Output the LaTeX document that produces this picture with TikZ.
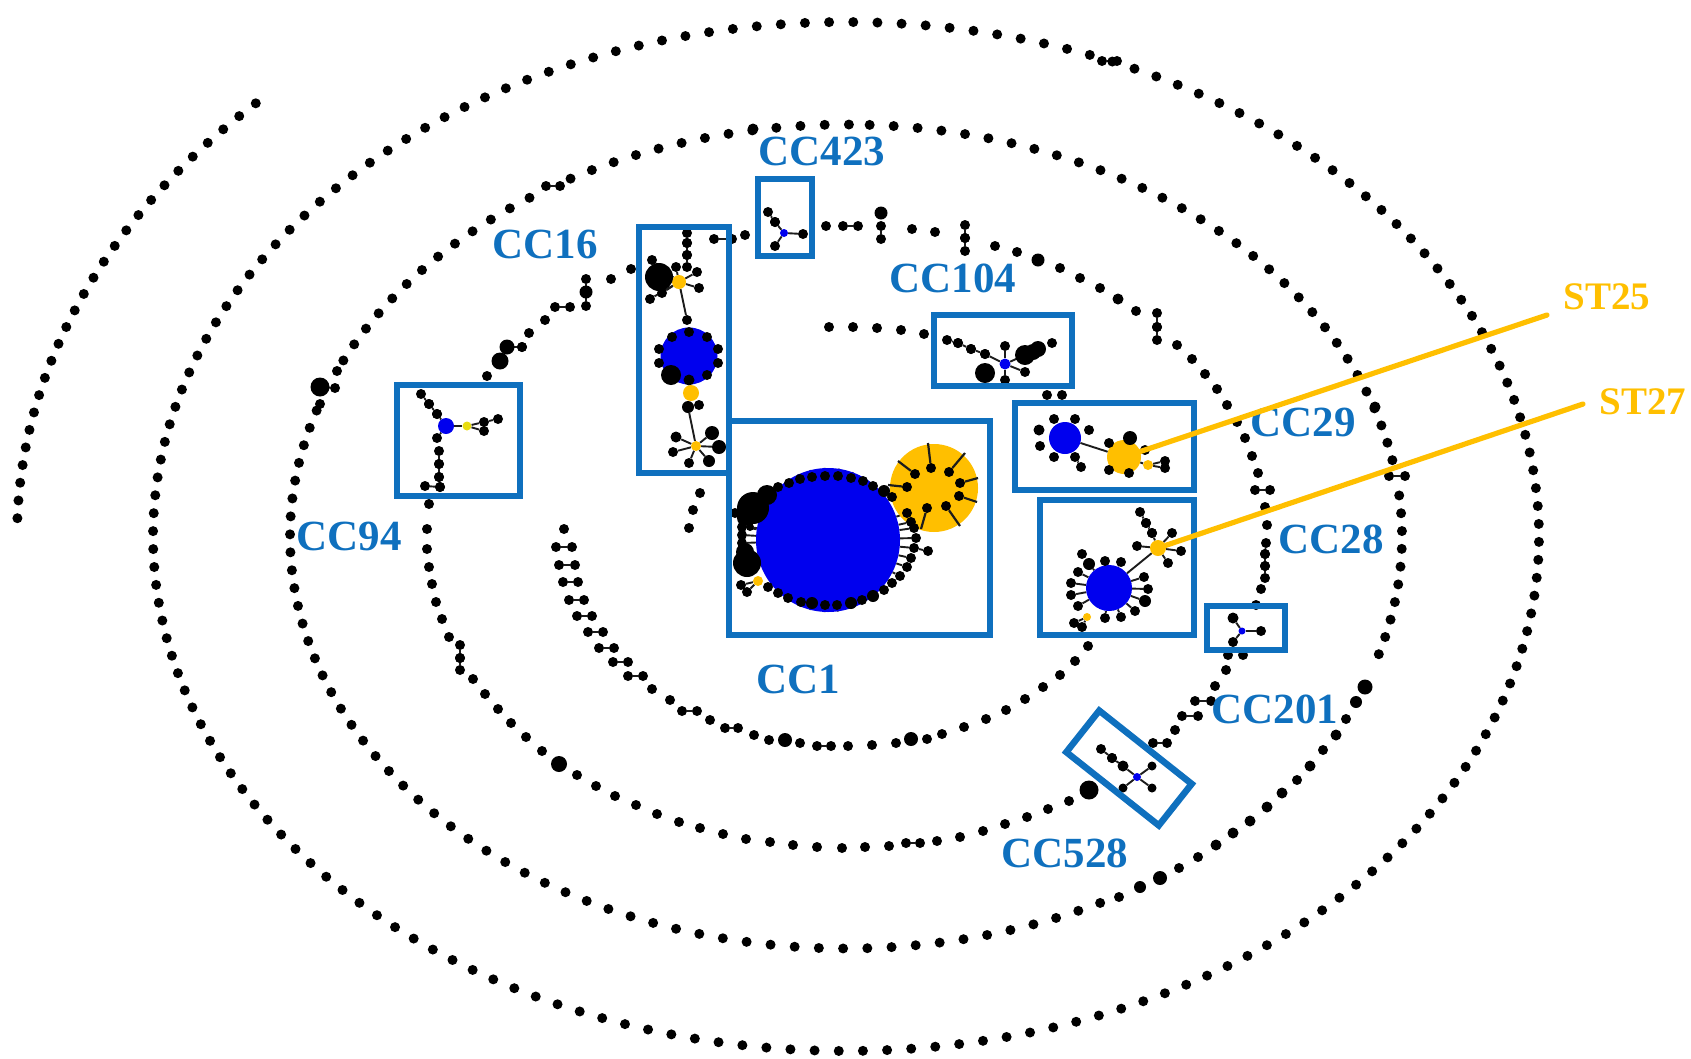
\documentclass[tikz,border=0pt]{standalone}
\usepackage{fontspec}
\setmainfont{Liberation Serif}
\usetikzlibrary{backgrounds}
\definecolor{ccblue}{HTML}{0F70BE}
\definecolor{hubblue}{HTML}{0000EE}
\definecolor{stgold}{HTML}{FFBF00}
\definecolor{stpale}{HTML}{E8DC10}
\definecolor{ink}{HTML}{1C1C1C}
\tikzset{
  dot/.style={circle,fill=black,inner sep=0pt,minimum size=10pt},
  blob/.style={dot,minimum size=#1},
  bluehub/.style={circle,fill=hubblue,inner sep=0pt,minimum size=#1},
  sthub/.style={circle,fill=stgold,inner sep=0pt,minimum size=#1},
  link/.style={draw=ink,line width=1.9pt},
  tail/.style={draw=ink,line width=2.2pt},
  ccbox/.style={draw=ccblue,line width=6.5pt,inner sep=0pt,fill=none},
  cclabel/.style={text=ccblue,font=\fontsize{43}{43}\selectfont\bfseries,inner sep=0pt},
  stlabel/.style={text=stgold,font=\fontsize{39}{39}\selectfont\bfseries,inner sep=0pt},
  stline/.style={draw=stgold,line width=5.2pt,line cap=round},
}
% leaves hung on a hub: x/y/size
\newcommand{\leaves}[2]{\foreach \x/\y/\s [count=\n] in {#2} {
  \node[blob=\s pt] (#1l\n) at (\x,\y) {};
  \scoped[on background layer] \draw[link] (#1) -- (#1l\n);
}}
% linked pairs of dots: x/y/x/y
\newcommand{\pairs}[2]{\foreach \ax/\ay/\bx/\by [count=\n] in {#2} {
  \node[dot] (#1a\n) at (\ax,\ay) {};
  \node[dot] (#1b\n) at (\bx,\by) {};
  \scoped[on background layer] \draw[link] (#1a\n) -- (#1b\n);
}}
% dots on a concentric ellipse: name, x radius, y radius, angle
\newcommand{\ringdot}[4]{\node[dot] (#1) at ({846+#2*cos(#4)},{536.5-#3*sin(#4)}) {};}
\begin{document}
\begin{tikzpicture}[x=1pt,y=-1pt]
\useasboundingbox (0,0) rectangle (1691,1058);

% outer rings
\foreach \k in {0,...,26} {\ringdot{ra\k}{829}{617}{135.4+1.65*\k}}
\foreach \k in {0,...,179} {\ringdot{rb\k}{693}{514.5}{89.4+2*\k}}
\foreach \k in {0,...,12} {\ringdot{rc\k}{556}{412}{89.7+2.5*\k}}
\foreach \k in {14,15,...,26} {\ringdot{rc\k}{556}{412}{89.7+2.5*\k}}
\foreach \k in {29,30,...,83} {\ringdot{rc\k}{556}{412}{89.7+2.5*\k}}
\foreach \k in {0,...,9} {\ringdot{rd\k}{556}{412}{343.4+2.48*\k}}
\foreach \k in {11,12,...,42} {\ringdot{rd\k}{556}{412}{343.4+2.48*\k}}
\foreach \x/\y/\s [count=\n] in {1365/687/15,1356/702/12,1346/719/10,1336/735/11,1323/750/10,1310/766/11,1297/780/10,1282/793/11,1267/807/11,1250/821/11,1233/833/11,1216/845/11,1198/857/10,1179/868/10,1160/878/14,1140/887/12,1119/897/10,753/129/11,320/387/19,1375/407/11,337/371/10,320/404/10}
  \node[blob=\s pt] (rbig\n) at (\x,\y) {};
\pairs{rp}{546/186/560/186,1389/476/1405/476,320/387/335/388,1102/61/1117/61}

% third ring
\foreach \x/\y [count=\n] in {429/504,427/529,427/549,429/567,432/584,436/602,442/619,449/637,473/679,485/694,498/709,511/723,526/737,542/751,577/775,596/786,615/796,636/805,657/814,679/822,700/828,723/834,746/839,770/842,793/845,817/847,842/848,865/847,889/846,937/841,960/837,983/831,1005/824,1027/817,1048/809,1069/801,1175/730,1215/686,1226/670,1228/655,1243/655,1256/605,1261/589,1267/525,1265/507,1258/473,1252/456,1245/438,1237/422,1227/405,1217/389,1205/374,1192/359,1177/345,1136/311,1100/288,1080/278,1060/268,1017/252,995/246,935/232,912/229,826/226,745/235,631/269,611/279,545/320,529/333,522/347,487/376}
  \node[dot] (rt\n) at (\x,\y) {};
\foreach \x/\y/\s [count=\n] in {559/764/16,1089/790/19,1118/299/11,1038/260/13,881/213/13,586/292/13,507/347/15,500/361/17}
  \node[blob=\s pt] (rtbig\n) at (\x,\y) {};
\pairs{rtp}{460/645/460/658,460/658/460/670,906/843/920/843,1153/743/1167/743,1182/716/1198/716,1195/701/1211/701,1255/490/1270/490,1266/543/1265/554,1265/554/1265/566,1265/566/1265/578,1157/313/1157/327,1157/327/1157/340,965/225/965/238,965/238/965/251,881/226/881/239,843/226/858/226,714/239/732/239,586/279/586/292,586/292/586/306,555/307/570/307,507/347/522/347}

% fourth ring
\foreach \x/\y [count=\n] in {564/529,652/689,670/700,710/720,754/735,769/740,800/743,848/746,872/745,896/743,927/739,942/734,964/727,986/719,1006/710,1025/699,1043/687,1060/675,1075/661,1088/646,829/327,853/327,877/328,901/330,924/334,1047/395,1062/395,689/528,693/510,700/493}
  \node[dot] (rf\n) at (\x,\y) {};
\node[blob=14pt] (rfbig1) at (785,740) {};
\node[blob=14pt] (rfbig2) at (911,739) {};
\pairs{rfp}{556/547/572/547,559/565/575/565,563/582/578/582,569/600/584/600,577/616/592/616,588/632/603/632,599/648/614/648,613/662/628/662,628/676/643/676,682/711/697/711,725/728/738/728,817/746/831/746}

% CC1
\node[bluehub=144pt] (cc1hub) at (828,540) {};
\leaves{cc1hub}{778/487/10,789/483/10,800/479/10,812/477/10,825/476/10,838/476/10,851/478/10,863/481/10,873/486/10,884/491/12,892/497/10,768/587/10,778/593/10,788/598/10,801/602/10,812/603/12,825/605/10,837/605/10,851/603/12,862/600/10,873/596/12,884/590/10,892/583/10,900/576/10,907/567/10,911/558/10,914/548/10,916/538/10,914/528/10,911/522/10,907/513/10,742/527/10,742/535/10,742/543/10,750/527/8}
\node[dot] (cc1far) at (928,551) {};
\draw[link] (cc1hubl27) -- (cc1far);
\foreach \x/\y/\s [count=\n] in {753/508/32,767/495/20,745/518/16,735/513/10,747/563/28,745/552/18}
  \node[blob=\s pt] (cc1blob\n) at (\x,\y) {};
\node[sthub=10pt] (cc1st) at (758,581) {};
\leaves{cc1st}{741/585/10,747/592/10}
\begin{scope}[on background layer]
\node[sthub=88pt] (cc1gold) at (934,488) {};
\end{scope}
\foreach \x/\y/\tx/\ty [count=\n] in {915/474/898/461,931/468/928/443,949/472/965/453,960/483/978/478,959/496/977/502,946/506/960/526,927/508/921/529,907/487/888/485} {
  \node[dot] (cc1g\n) at (\x,\y) {};
  \coordinate (cc1t\n) at (\tx,\ty);
  \draw[tail] (cc1g\n) -- (cc1t\n);
}

% CC16
\node[sthub=14pt] (cc16top) at (679,282) {};
\node[blob=28pt] (cc16big) at (659,277) {};
\leaves{cc16top}{676/267/10,697/272/10,699/288/10,662/293/10,650/299/10,652/260/10,687/320/10}
\pairs{cc16p}{687/233/687/243,687/243/687/255,687/255/687/267}
\node[bluehub=57pt] (cc16hub) at (689,356) {};
\foreach \x/\y/\s [count=\n] in {689/332/10,672/337/10,707/337/10,659/349/10,718/349/10,659/363/10,718/363/10,671/375/20,689/380/11,707/375/10}
  \node[blob=\s pt] (cc16r\n) at (\x,\y) {};
\node[sthub=16pt] (cc16mid) at (691,393) {};
\node[sthub=10pt] (cc16low) at (696,446) {};
\node[blob=12pt] (cc16n) at (688,407) {};
\node[dot] (cc16m) at (699,405) {};
\draw[link] (cc16n) -- (cc16low);
\leaves{cc16low}{676/437/11,673/452/10,689/463/10,709/461/12,719/447/14,712/433/14}

% CC423
\node[bluehub=8pt] (cc423hub) at (784,233) {};
\leaves{cc423hub}{803/234/10,775/246/10,775/222/10}
\pairs{cc423p}{768/212/775/222}

% CC104
\node[bluehub=11pt] (cc104hub) at (1005,364) {};
\leaves{cc104hub}{985/354/10,1005/346/10,1005/380/10,1025/372/10,1025/355/10}
\pairs{cc104p}{947/340/958/343,958/343/971/349,971/349/985/354}
\foreach \x/\y/\s [count=\n] in {985/373/20,1025/355/20,1038/349/16,1033/352/16,1052/343/10}
  \node[blob=\s pt] (cc104b\n) at (\x,\y) {};

% CC29
\node[bluehub=32pt] (cc29hub) at (1065,438) {};
\foreach \x/\y/\s [count=\n] in {1054/419/10,1075/419/10,1089/430/10,1039/430/11,1040/446/10,1054/457/10,1075/457/10,1081/467/10}
  \node[blob=\s pt] (cc29l\n) at (\x,\y) {};
\draw[link] (cc29l7) -- (cc29l8);
\node[sthub=34pt] (cc29st) at (1124,457) {};
\draw[link] (cc29hub) -- (cc29st);
\foreach \x/\y/\s [count=\n] in {1130/438/14,1109/443/10,1145/450/10,1109/470/10,1129/473/10,1165/461/10,1165/468/10}
  \node[blob=\s pt] (cc29m\n) at (\x,\y) {};
\node[sthub=10pt] (cc29small) at (1148,465) {};
\draw[link] (cc29st) -- (cc29small);
\draw[link] (cc29small) -- (cc29m6);
\draw[link] (cc29small) -- (cc29m7);

% CC28
\node[bluehub=46pt] (cc28hub) at (1109,588) {};
\node[sthub=16pt] (cc28st) at (1158,548) {};
\scoped[on background layer] \draw[link] (cc28hub) -- (cc28st);
\leaves{cc28hub}{1089/564/12,1105/561/10,1121/562/10,1078/572/10,1071/583/10,1071/595/10,1078/606/10,1105/618/10,1121/617/10,1135/611/10,1145/601/12,1148/589/10,1144/577/10}
\node[dot] (cc28far) at (1082,554) {};
\leaves{cc28st}{1137/546/10,1181/551/10,1168/563/10,1172/533/10,1152/533/10}
\pairs{cc28p}{1140/512/1146/523,1146/523/1152/533}
\node[sthub=8pt] (cc28small) at (1087,617) {};
\leaves{cc28small}{1074/623/10,1082/627/10}

% CC94
\node[bluehub=16pt] (cc94hub) at (446,426) {};
\leaves{cc94hub}{437/438/10,437/414/10}
\pairs{cc94p}{421/394/429/404,429/404/437/414,439/451/439/464,439/464/439/477,439/477/440/487,425/486/440/487}
\node[circle,fill=stpale,inner sep=0pt,minimum size=9pt] (cc94st) at (467,426) {};
\scoped[on background layer] \draw[link] (cc94hub) -- (cc94st);
\leaves{cc94st}{484/422/10,484/431/10}
\node[dot] (cc94end) at (498,419) {};
\draw[link] (cc94stl1) -- (cc94end);

% CC201
\node[bluehub=7pt] (cc201hub) at (1242,631) {};
\leaves{cc201hub}{1233/618/11,1261/631/10,1233/642/10}

% CC528
\node[bluehub=8pt] (cc528hub) at (1137,777) {};
\leaves{cc528hub}{1152/766/9,1152/788/9,1123/788/9,1123/766/11}
\pairs{cc528p}{1101/749/1112/758,1112/758/1123/766}

% boxes
\node[ccbox,minimum width=54pt,minimum height=77pt] (cc423) at (785,217.5) {};
\node[ccbox,minimum width=90pt,minimum height=246pt] (cc16) at (684,350) {};
\node[ccbox,minimum width=261pt,minimum height=214pt] (cc1) at (859.5,528) {};
\node[ccbox,minimum width=138pt,minimum height=71pt] (cc104) at (1003,350.5) {};
\node[ccbox,minimum width=179pt,minimum height=87pt] (cc29) at (1104.5,446.5) {};
\node[ccbox,minimum width=154pt,minimum height=135pt] (cc28) at (1117,567.5) {};
\node[ccbox,minimum width=123pt,minimum height=111pt] (cc94) at (458.5,440.5) {};
\node[ccbox,minimum width=78pt,minimum height=44pt] (cc201) at (1246,628) {};
\node[ccbox,minimum width=118pt,minimum height=53pt,rotate=-38.4] (cc528) at (1129,768) {};

% labels
\node[cclabel] (lcc423) at (822,151) {CC423};
\node[cclabel] (lcc16) at (545,244) {CC16};
\node[cclabel] (lcc104) at (953,278) {CC104};
\node[cclabel] (lcc29) at (1303,422) {CC29};
\node[cclabel] (lcc28) at (1331,539) {CC28};
\node[cclabel] (lcc94) at (349,536) {CC94};
\node[cclabel] (lcc1) at (798,679) {CC1};
\node[cclabel] (lcc201) at (1275,709) {CC201};
\node[cclabel] (lcc528) at (1065,853) {CC528};
\node[stlabel] (st25) at (1607,297) {ST25};
\node[stlabel] (st27) at (1643,402) {ST27};

% leader lines
\coordinate (st25end) at (1547,315);
\coordinate (st27end) at (1583,404);
\draw[stline] (cc29st) -- (st25end);
\draw[stline] (cc28st) -- (st27end);
\end{tikzpicture}
\end{document}
